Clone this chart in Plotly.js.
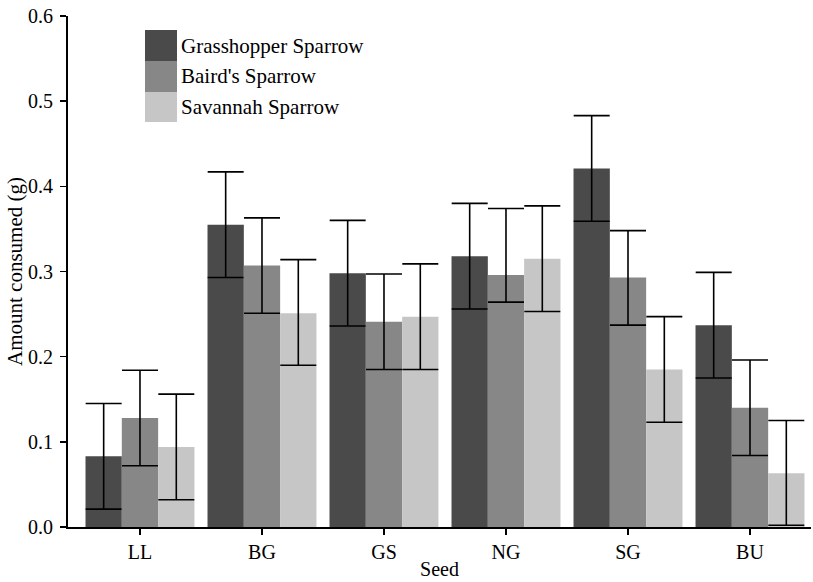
<!DOCTYPE html>
<html>
<head>
<meta charset="utf-8">
<script src="https://cdn.plot.ly/plotly-3.0.1.min.js"></script>
<style>html,body{margin:0;padding:0;background:#fff;}#chart{width:813px;height:582px;}</style>
</head>
<body>
<div id="chart"></div>
<script>
var seeds = ["LL", "BG", "GS", "NG", "SG", "BU"];
var seriesNames = ["Grasshopper Sparrow", "Baird's Sparrow", "Savannah Sparrow"];
var grasshopper = [0.083, 0.355, 0.298, 0.318, 0.421, 0.237];
var grasshopperUp = [0.062, 0.062, 0.062, 0.062, 0.062, 0.062];
var grasshopperDown = [0.062, 0.062, 0.062, 0.062, 0.062, 0.062];
var bairds = [0.128, 0.307, 0.241, 0.296, 0.293, 0.140];
var bairdsUp = [0.056, 0.056, 0.056, 0.078, 0.055, 0.056];
var bairdsDown = [0.056, 0.056, 0.056, 0.032, 0.056, 0.056];
var savannah = [0.094, 0.251, 0.247, 0.315, 0.185, 0.063];
var savannahUp = [0.062, 0.063, 0.062, 0.062, 0.062, 0.062];
var savannahDown = [0.062, 0.061, 0.062, 0.062, 0.062, 0.061];
var colors = ["#4a4a4a", "#878787", "#c6c6c6"];

var font = "Liberation Serif, Times New Roman, serif";
var vals = [grasshopper, bairds, savannah];
var ups = [grasshopperUp, bairdsUp, savannahUp];
var downs = [grasshopperDown, bairdsDown, savannahDown];

var traces = vals.map(function (v, i) {
  return {
    type: "bar", x: seeds, y: v, name: seriesNames[i],
    marker: {color: colors[i], line: {width: 0}},
    error_y: {type: "data", symmetric: false, array: ups[i], arrayminus: downs[i],
      color: "#000", thickness: 1.6, width: 18},
    showlegend: false
  };
});

var L = 68, R = 2, T = 16, B = 55, W = 813, H = 582;
var pw = W - L - R, ph = H - T - B;
function px(x) { return (x - L) / pw; }
function py(y) { return (H - B - y) / ph; }

var rows = [[30, 61], [61, 92], [92, 122]];
var shapes = [], annotations = [];
rows.forEach(function (r, i) {
  shapes.push({type: "rect", xref: "paper", yref: "paper",
    x0: px(145), x1: px(177), y0: py(r[1]), y1: py(r[0]),
    fillcolor: colors[i], line: {width: 0}});
  annotations.push({xref: "paper", yref: "paper", x: px(179), y: py((r[0] + r[1]) / 2),
    xanchor: "left", yanchor: "middle", showarrow: false, text: seriesNames[i],
    font: {family: font, size: 21, color: "#000"}});
});

var layout = {
  width: W, height: H,
  margin: {l: L, r: R, t: T, b: B},
  paper_bgcolor: "#fff", plot_bgcolor: "#fff",
  barmode: "group", bargap: 0.107, bargroupgap: 0,
  font: {family: font, size: 20, color: "#000"},
  xaxis: {
    range: [-0.59, 5.5], showgrid: false, zeroline: false,
    showline: true, linecolor: "#000", linewidth: 2,
    ticks: "outside", ticklen: 6, tickwidth: 1.5, tickcolor: "#000",
    tickfont: {family: font, size: 20},
    title: {text: "Seed", font: {family: font, size: 20}, standoff: 0}
  },
  yaxis: {
    range: [0, 0.6], dtick: 0.1, tickformat: ".1f", showgrid: false, zeroline: false,
    showline: true, linecolor: "#000", linewidth: 2,
    ticks: "outside", ticklen: 6, tickwidth: 1.5, tickcolor: "#000",
    tickfont: {family: font, size: 20}, ticklabelstandoff: 3,
    title: {text: "Amount consumed (g)", font: {family: font, size: 21}, standoff: 0}
  },
  shapes: shapes,
  annotations: annotations
};

Plotly.newPlot("chart", traces, layout, {displayModeBar: false, staticPlot: true});
</script>
</body>
</html>
